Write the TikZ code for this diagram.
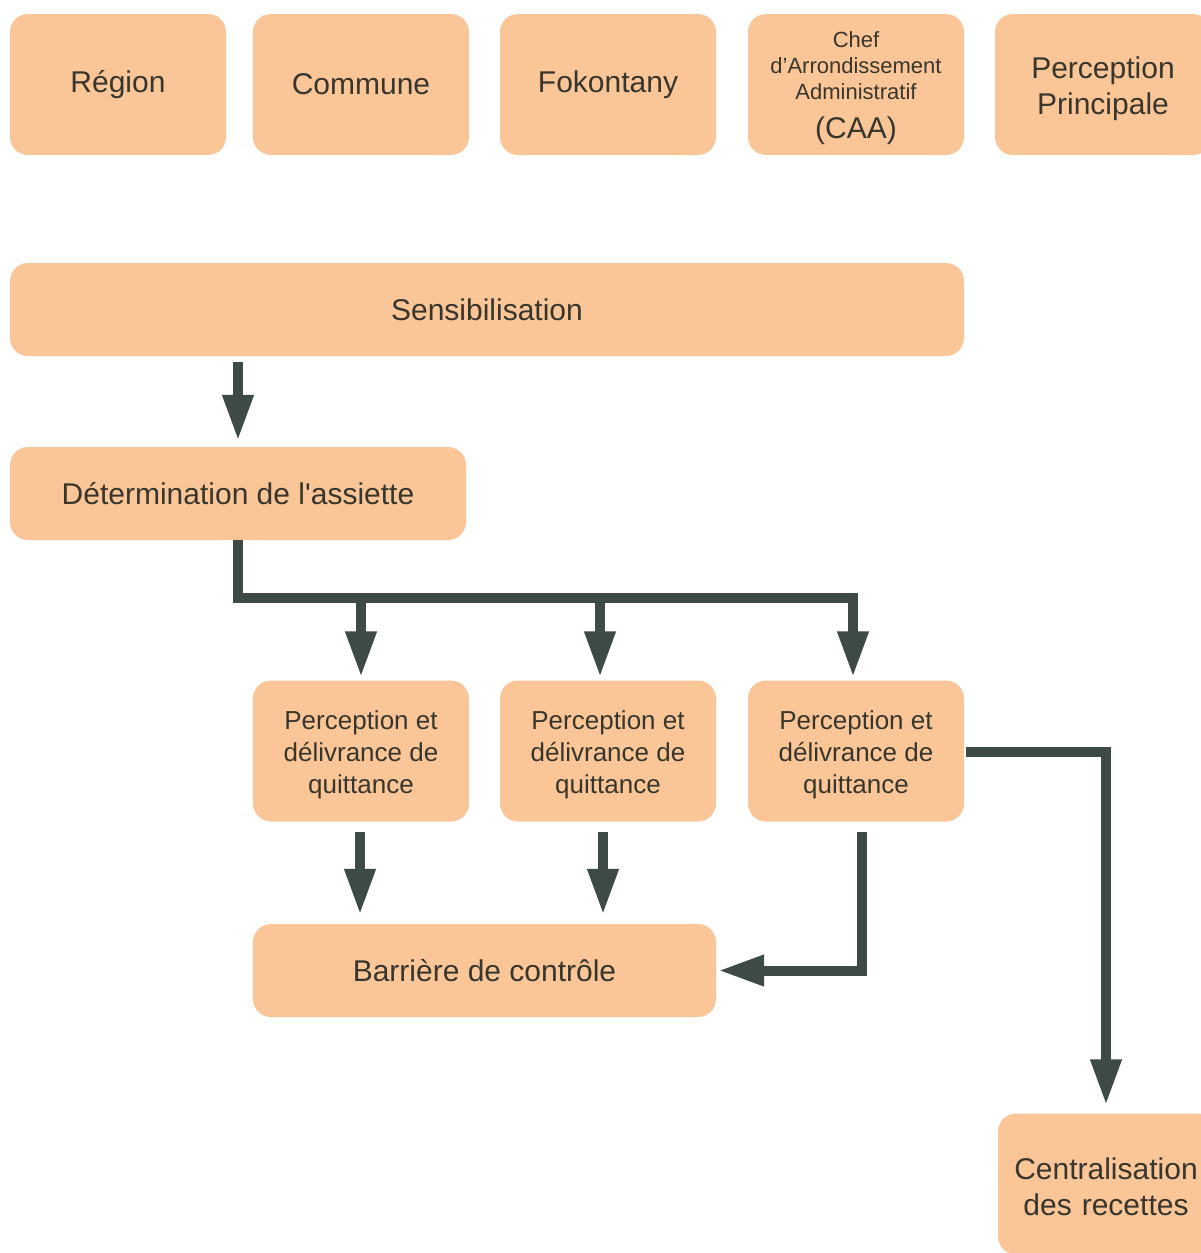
\documentclass[tikz,border=0pt]{standalone}
\usepackage{fontspec}
\setmainfont{Liberation Sans}
\usetikzlibrary{arrows.meta,calc}
\definecolor{boxfill}{RGB}{250,198,152}
\definecolor{arrowcol}{RGB}{62,74,68}
\definecolor{txt}{RGB}{56,54,44}
\newcommand{\topstrut}[1]{\rule{0pt}{#1}}
\tikzset{
  box/.style={fill=boxfill, rounded corners=18pt, inner sep=0pt, text=txt, align=center,
    minimum width=216pt, minimum height=141pt, font=\fontsize{30}{36}\selectfont},
  wide/.style={box, minimum height=93pt},
  small/.style={font=\fontsize{26}{32}\selectfont},
  conn/.style={draw=arrowcol, line width=10pt, line join=miter},
  arr/.style={conn, -{Triangle[width=29pt,length=46pt]}},
}
\begin{document}
\begin{tikzpicture}[x=1pt,y=-1pt]
\useasboundingbox (0,0) rectangle (1201,1253);
\clip (0,0) rectangle (1201,1253);
\fill[white] (0,0) rectangle (1201,1253);
% top row
\node[box] (reg) at (118,84.5) {Région};
\node[box] (com) at (361,84.5) {Commune};
\node[box] (fok) at (608,84.5) {Fokontany};
\node[box, font=\fontsize{22}{26}\selectfont] (caa) at (856,84.5) {\topstrut{23pt}Chef\\d’Arrondissement\\Administratif\\[13pt]{\fontsize{30}{30}\selectfont (CAA)}};
\node[box] (pp) at (1103,84.5) {\topstrut{31pt}Perception\\Principale};
% flow
\node[wide, minimum width=954pt] (sens) at (487,309.5) {Sensibilisation};
\node[wide, minimum width=456pt] (det) at (238,493.5) {Détermination de l\textquotesingle assiette};
\node[box, small] (p1) at (361,751) {\topstrut{27pt}Perception et\\délivrance de\\quittance};
\node[box, small] (p2) at (608,751) {\topstrut{27pt}Perception et\\délivrance de\\quittance};
\node[box, small] (p3) at (856,751) {\topstrut{27pt}Perception et\\délivrance de\\quittance};
\node[wide, minimum width=463pt] (bar) at (484.5,970.5) {Barrière de contrôle};
\node[box, text width=210pt] (cen) at (1106,1184) {\topstrut{27pt}Centralisation\\des recettes};
% connectors
\coordinate (bus) at (238,598);
\draw[arr] ([yshift=-6pt]sens.south -| det.north) -- ([yshift=6pt]det.north);
\draw[arr] (det.south) -- (det.south |- bus) -- ([xshift=-3pt]p3.north |- bus) -- ([xshift=-3pt,yshift=3pt]p3.north);
\draw[arr] ([yshift=5pt]p1.north |- bus) -- ([yshift=3pt]p1.north);
\draw[arr] ([xshift=-8pt,yshift=5pt]p2.north |- bus) -- ([xshift=-8pt,yshift=3pt]p2.north);
\draw[arr] ([xshift=-1pt,yshift=-10pt]p1.south) -- ([xshift=-1pt,yshift=9pt]p1.south |- bar.north);
\draw[arr] ([xshift=-5pt,yshift=-10pt]p2.south) -- ([xshift=-5pt,yshift=9pt]p2.south |- bar.north);
\draw[arr] ([xshift=6pt,yshift=-10pt]p3.south) -- ([xshift=6pt]p3.south |- bar.east) -- ([xshift=2pt]bar.east);
\draw[arr] ([xshift=2pt,yshift=-1pt]p3.east) -- ([yshift=-1pt]p3.east -| cen.north) -- ([yshift=8pt]cen.north);
\end{tikzpicture}
\end{document}
